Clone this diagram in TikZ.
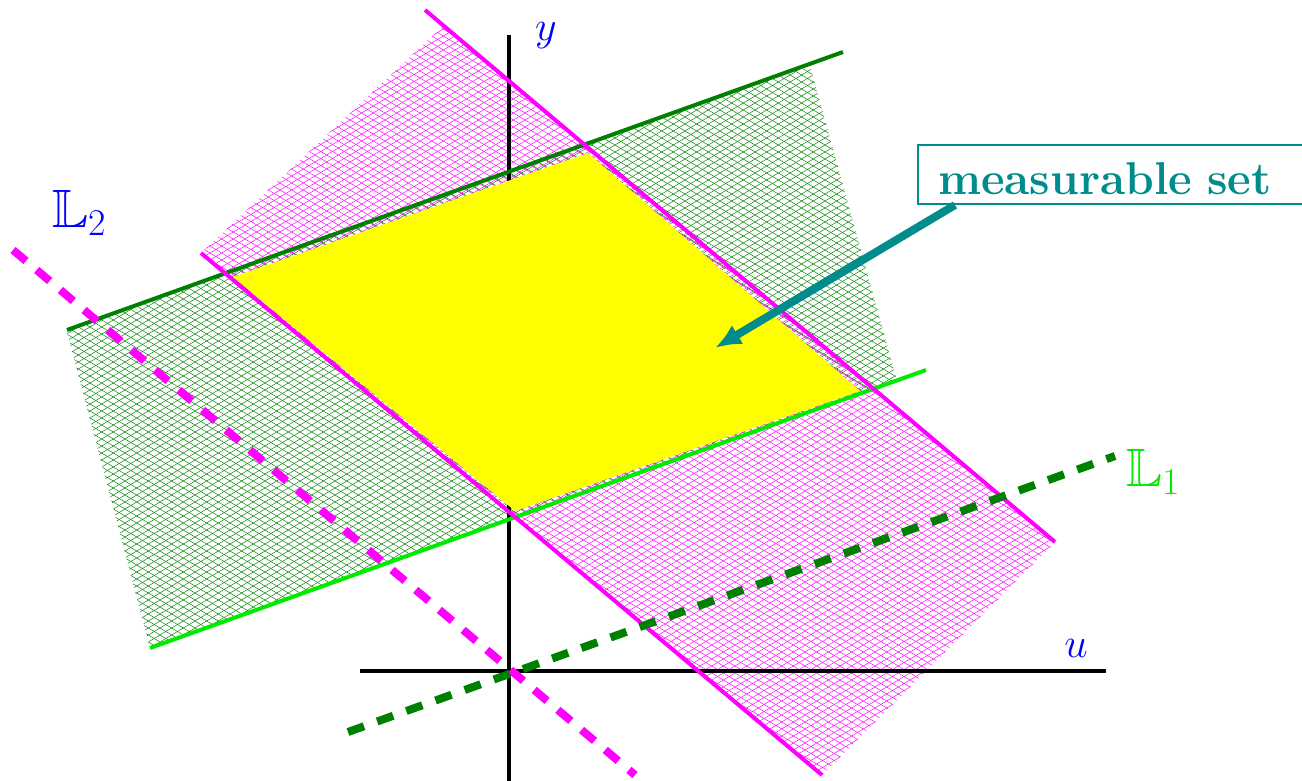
\RequirePackage{fix-cm}
\documentclass[tikz,border=0pt]{standalone}
\usepackage{amssymb}
\usetikzlibrary{arrows.meta, calc}

\definecolor{dgreen}{RGB}{0,128,0}
\definecolor{lgreen}{RGB}{0,235,0}
\definecolor{tealc}{RGB}{0,140,140}
\definecolor{magentac}{RGB}{255,0,255}
\definecolor{yellowc}{RGB}{255,255,0}
\definecolor{bluec}{RGB}{0,0,255}

\begin{document}
\begin{tikzpicture}[x=1pt, y=-1pt,
				hatchG/.style={dgreen, line width=0.5pt},
				hatchM/.style={magentac, line width=0.5pt},
				band/.style={line width=4pt},
				axis/.style={black, line width=4pt},
				dashline/.style={line width=8pt, dash pattern=on 17pt off 14pt},
				lbl/.style={bluec, font=\fontsize{42}{46}\selectfont},
				lname/.style={font=\fontsize{54}{60}\selectfont},
				msbox/.style={draw=tealc, line width=2pt, text=tealc, anchor=north west,
					font=\fontsize{46}{50}\selectfont\bfseries, text width=380pt, align=left,
					inner xsep=20pt, inner ysep=0pt, minimum height=59pt, text height=39pt, text depth=0pt},
				>={Latex[length=26pt,width=22pt]}]
				% Bildbereich
				\clip (0,0) rectangle (1302,781);
				% Endpunkte
				\coordinate (G1a) at (67,330);   \coordinate (G1b) at (843,52);
				\coordinate (G2a) at (150,648);  \coordinate (G2b) at (926,370);
				\coordinate (M1a) at (201,253);  \coordinate (M1b) at (822,775);
				\coordinate (M2a) at (425,10);   \coordinate (M2b) at (1055,542);
				\coordinate (L1a) at (348,732);  \coordinate (L1b) at (1115,456);
				\coordinate (L2a) at (13,250);   \coordinate (L2b) at (635,775);
				\coordinate (ytop) at (509,35);  \coordinate (ybot) at (509,781);
				\coordinate (uleft) at (360,671); \coordinate (uright) at (1106,671);
				% Schraffur gruen
				\begin{scope}
					\clip (67,332) -- (810,66) -- (897,381) -- (150,648) -- cycle;
					\draw[hatchG] \foreach \c in {-483,-476,...,620} {(60,{0.6*60+\c}) -- (900,{0.6*900+\c})};
					\draw[hatchG] \foreach \c in {94,101,...,1200} {(60,{-0.6*60+\c}) -- (900,{-0.6*900+\c})};
				\end{scope}
				% Schraffur magenta
				\begin{scope}
					\clip (201,253) -- (443,26) -- (1055,542) -- (822,775) -- cycle;
					\draw[hatchM] \foreach \c in {-608,-601,...,662} {(195,{0.6*195+\c}) -- (1060,{0.6*1060+\c})};
					\draw[hatchM] \foreach \c in {148,155,...,1420} {(195,{-0.6*195+\c}) -- (1060,{-0.6*1060+\c})};
				\end{scope}
				% Achsen
				\draw[axis] (ytop) -- (ybot);
				\draw[axis] (uleft) -- (uright);
				% messbare Menge
				\fill[yellowc] (233,277) -- (588,153) -- (860,391) -- (515,511) -- cycle;
				% Randgeraden
				\draw[band, dgreen] (G1a) -- (G1b);
				\draw[band, lgreen] (G2a) -- (G2b);
				\draw[band, magentac] (M1a) -- (M1b);
				\draw[band, magentac] (M2a) -- (M2b);
				% Geraden L1, L2
				\draw[dashline, magentac] (L2a) -- (L2b);
				\draw[dashline, dgreen] (L1a) -- (L1b);
				% Beschriftung
				\node[lbl] (ylab) at (546,36) {$y$};
				\node[lbl] (ulab) at (1076,648) {$u$};
				\node[lname, bluec] (L2lab) at (79,213) {$\mathbb{L}_2$};
				\node[lname, lgreen] (L1lab) at (1153,472) {$\mathbb{L}_1$};
				\node[msbox] (mset) at (917,144) {measurable set};
				\draw[tealc, line width=8pt, ->] ($(mset.south west)+(38,0)$) -- (715,348);
			\end{tikzpicture}
\end{document}
